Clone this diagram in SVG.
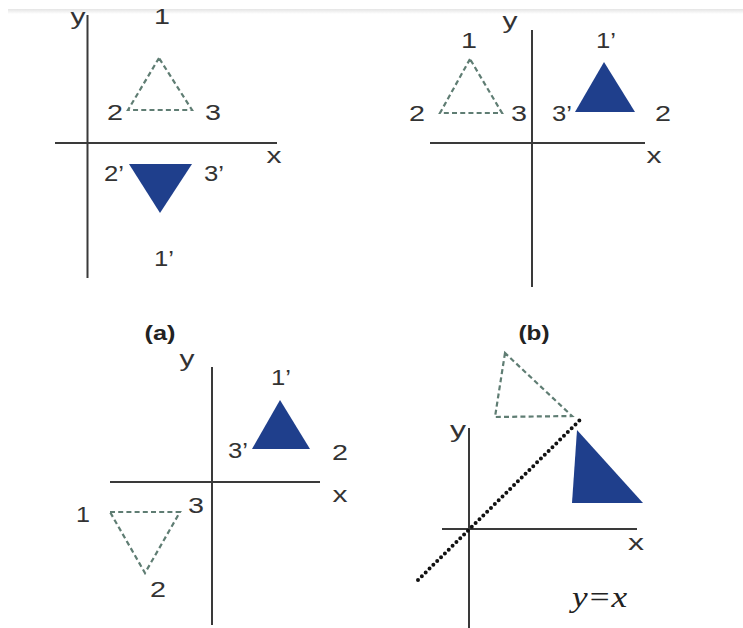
<svg xmlns="http://www.w3.org/2000/svg" width="743" height="628" viewBox="0 0 743 628">
  <style>
    .lbl { font-family: "Liberation Sans", Arial, sans-serif; font-size: 22px; fill: #333; text-anchor: middle; }
    .cap { font-family: "Liberation Sans", Arial, sans-serif; font-size: 20px; font-weight: bold; fill: #222; text-anchor: middle; }
    .eq { font-family: "Liberation Serif", "Times New Roman", serif; font-size: 30px; font-style: italic; fill: #222; }
    .axis { stroke: #3a3a3a; stroke-width: 2; fill: none; }
    .orig { fill: none; stroke: #5f7d73; stroke-width: 2.2; stroke-dasharray: 5 3.2; }
    .img { fill: #1f3f8c; stroke: none; }
    .mirror { stroke: #111; stroke-width: 4; stroke-linecap: round; stroke-dasharray: 0 5.4; fill: none; }
  </style>
  <defs>
    <linearGradient id="band" x1="0" y1="0" x2="0" y2="1">
      <stop offset="0" stop-color="#e4e4e4"/>
      <stop offset="1" stop-color="#ffffff"/>
    </linearGradient>
  </defs>
  <rect width="743" height="628" fill="#ffffff"/>
  <rect x="8" y="9" width="735" height="5" fill="url(#band)"/>

  <g id="panel-top-left">
    <line class="axis" x1="87.5" y1="15" x2="87.5" y2="278"/>
    <line class="axis" x1="55" y1="143" x2="277" y2="143"/>
    <polygon class="orig" points="159,58 128,110 192,110"/>
    <polygon class="img" points="129,164 192,164 160,213"/>
    <text class="lbl" x="78" y="24" textLength="15" lengthAdjust="spacingAndGlyphs">y</text>
    <text class="lbl" x="162" y="24" textLength="16" lengthAdjust="spacingAndGlyphs">1</text>
    <text class="lbl" x="115" y="120" textLength="16" lengthAdjust="spacingAndGlyphs">2</text>
    <text class="lbl" x="213" y="120" textLength="16" lengthAdjust="spacingAndGlyphs">3</text>
    <text class="lbl" x="274" y="163" textLength="15" lengthAdjust="spacingAndGlyphs">x</text>
    <text class="lbl" x="114" y="181" textLength="20" lengthAdjust="spacingAndGlyphs">2’</text>
    <text class="lbl" x="214" y="181" textLength="20" lengthAdjust="spacingAndGlyphs">3’</text>
    <text class="lbl" x="164" y="266" textLength="20" lengthAdjust="spacingAndGlyphs">1’</text>
  </g>

  <g id="panel-top-right">
    <line class="axis" x1="532" y1="30" x2="532" y2="287"/>
    <line class="axis" x1="430" y1="143" x2="645" y2="143"/>
    <polygon class="orig" points="470,59 440,113 502,113"/>
    <polygon class="img" points="604,62 575,112 635,112"/>
    <text class="lbl" x="510" y="28" textLength="15" lengthAdjust="spacingAndGlyphs">y</text>
    <text class="lbl" x="469" y="48" textLength="16" lengthAdjust="spacingAndGlyphs">1</text>
    <text class="lbl" x="606" y="48" textLength="20" lengthAdjust="spacingAndGlyphs">1’</text>
    <text class="lbl" x="417" y="121" textLength="16" lengthAdjust="spacingAndGlyphs">2</text>
    <text class="lbl" x="519" y="121" textLength="16" lengthAdjust="spacingAndGlyphs">3</text>
    <text class="lbl" x="562" y="121" textLength="20" lengthAdjust="spacingAndGlyphs">3’</text>
    <text class="lbl" x="663" y="121" textLength="16" lengthAdjust="spacingAndGlyphs">2</text>
    <text class="lbl" x="654" y="163" textLength="15" lengthAdjust="spacingAndGlyphs">x</text>
  </g>

  <g id="caption-a">
    <text class="cap" x="160" y="340" textLength="31" lengthAdjust="spacingAndGlyphs">(a)</text>
  </g>
  <g id="caption-b">
    <text class="cap" x="534" y="340" textLength="31" lengthAdjust="spacingAndGlyphs">(b)</text>
  </g>

  <g id="panel-bottom-left">
    <line class="axis" x1="212" y1="367" x2="212" y2="625"/>
    <line class="axis" x1="110" y1="482" x2="320" y2="482"/>
    <polygon class="img" points="280,400 252,449 310,449"/>
    <polygon class="orig" points="110,512 180,512 145,573"/>
    <text class="lbl" x="187" y="366" textLength="15" lengthAdjust="spacingAndGlyphs">y</text>
    <text class="lbl" x="281" y="385" textLength="20" lengthAdjust="spacingAndGlyphs">1’</text>
    <text class="lbl" x="238" y="458" textLength="20" lengthAdjust="spacingAndGlyphs">3’</text>
    <text class="lbl" x="340" y="460" textLength="16" lengthAdjust="spacingAndGlyphs">2</text>
    <text class="lbl" x="340" y="502" textLength="15" lengthAdjust="spacingAndGlyphs">x</text>
    <text class="lbl" x="196" y="513" textLength="16" lengthAdjust="spacingAndGlyphs">3</text>
    <text class="lbl" x="83" y="522" textLength="14" lengthAdjust="spacingAndGlyphs">1</text>
    <text class="lbl" x="158" y="597" textLength="16" lengthAdjust="spacingAndGlyphs">2</text>
  </g>

  <g id="panel-bottom-right">
    <line class="axis" x1="469" y1="428" x2="469" y2="628"/>
    <line class="axis" x1="442" y1="529" x2="637" y2="529"/>
    <line class="mirror" x1="418" y1="580" x2="583" y2="417"/>
    <polygon class="orig" points="505,353 495,417 572,416"/>
    <polygon class="img" points="577,430 572,503 643,503"/>
    <text class="lbl" x="458" y="437" textLength="16" lengthAdjust="spacingAndGlyphs">y</text>
    <text class="lbl" x="636" y="550" textLength="16" lengthAdjust="spacingAndGlyphs">x</text>
    <text class="eq" x="572" y="607" textLength="55" lengthAdjust="spacingAndGlyphs">y=x</text>
  </g>
</svg>
